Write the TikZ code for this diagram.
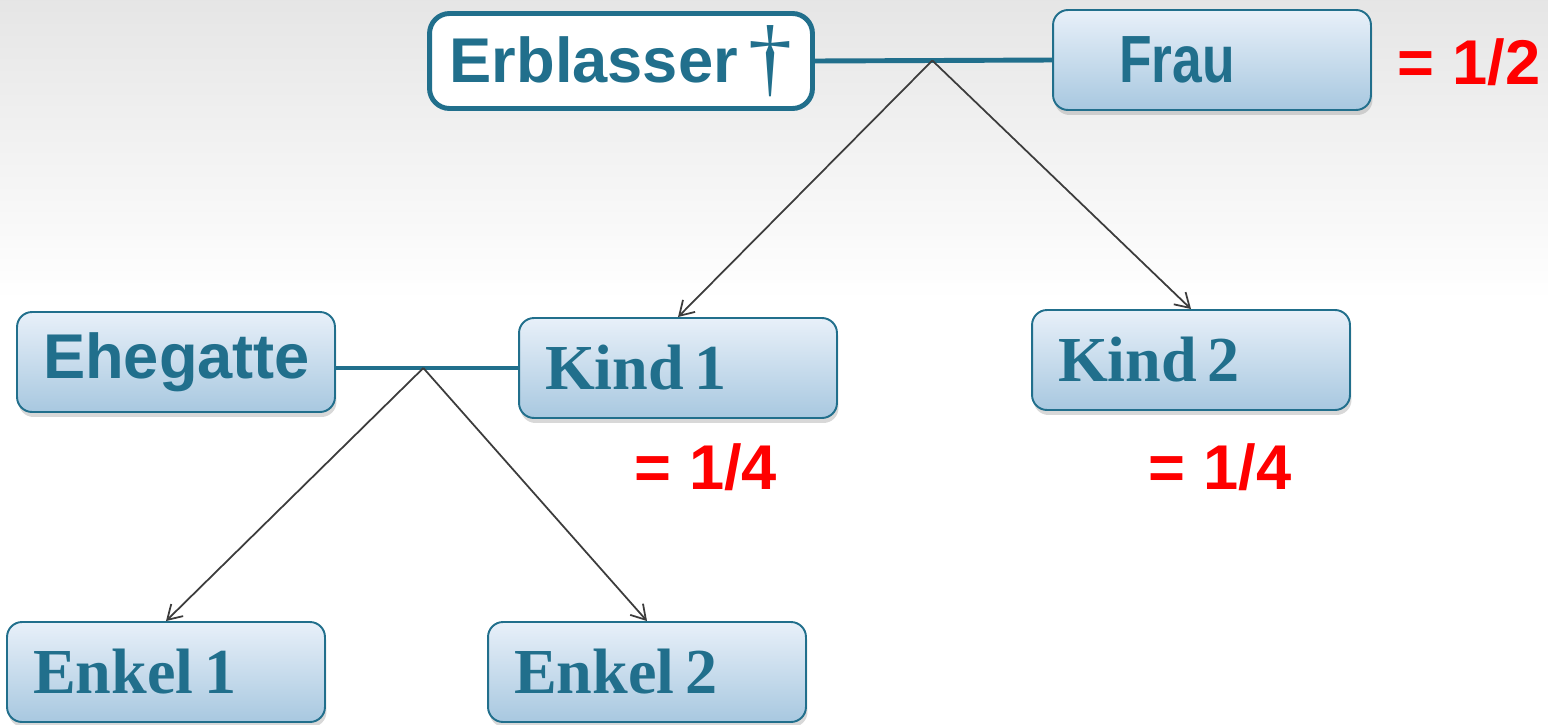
\documentclass[tikz,border=0pt]{standalone}
\usepackage{fontspec}
\setmainfont{Liberation Serif}
\setsansfont{Liberation Sans}
\usetikzlibrary{positioning,arrows.meta,shadows}
\definecolor{erbteal}{RGB}{33,111,140}
\definecolor{boxtop}{RGB}{232,240,249}
\definecolor{boxbot}{RGB}{168,200,224}
\definecolor{arrgray}{RGB}{60,60,60}

\begin{document}
\begin{tikzpicture}[x=0.02cm,y=-0.02cm,
    box/.style={draw=erbteal,line width=1.1pt,rounded corners=0.3cm,
      top color=boxtop,bottom color=boxbot,text=erbteal,
      text width=5.32cm,inner xsep=0.52cm,minimum height=2cm,align=left,
      drop shadow={opacity=.3,shadow xshift=.3mm,shadow yshift=-1mm}},
    sfbox/.style={box,font=\sffamily\bfseries\fontsize{36}{40}\selectfont},
    rmbox/.style={box,font=\rmfamily\bfseries\fontsize{36.5}{40}\selectfont},
    share/.style={text=red,font=\sffamily\bfseries\fontsize{36}{40}\selectfont},
    famline/.style={draw=erbteal,line width=2.8pt},
    childarr/.style={draw=arrgray,line width=1pt,-{Straight Barb[length=2.8mm,width=3.4mm]}}]
      \useasboundingbox (0,0) rectangle (1548,724);
      \shade[top color=gray!20,bottom color=white] (0,0) rectangle (1548,300);
      \fill[white] (0,300) rectangle (1548,724);

      \node[draw=erbteal,line width=2.8pt,fill=white,rounded corners=0.4cm,
        minimum width=7.66cm,minimum height=1.9cm,text=erbteal,
        font=\sffamily\bfseries\fontsize{36}{40}\selectfont] (erbl) at (621,61)
        {Erblasser\,{\rmfamily\mdseries\fontsize{50}{50}\selectfont\raisebox{-2pt}{†}}};
      \node[sfbox] (frau) at (1212,60) {\hspace*{0.8cm}\fontsize{38}{40}\selectfont\scalebox{0.8}[1]{Frau}};
      \node[share] (r1) at (1469,62) {= 1/2};

      \node[sfbox] (eheg) at (176,362) {Ehegatte};
      \node[rmbox] (kind1) at (678,368) {Kind\hspace{.17em}1};
      \node[rmbox] (kind2) at (1191,360) {Kind\hspace{.17em}2};
      \node[share] (r2) at (706,467) {= 1/4};
      \node[share] (r3) at (1220,467) {= 1/4};

      \node[rmbox] (enk1) at (166,672) {Enkel\hspace{.17em}1};
      \node[rmbox] (enk2) at (647,672) {Enkel\hspace{.17em}2};

      % Ehe Erblasser / Frau
      \draw[famline] (erbl.east) -- (frau.west) coordinate[pos=.495] (j1);
      \draw[childarr] (j1) -- (kind1.north);
      \draw[childarr] (j1) -- (kind2.north);

      % Ehe Kind 1 / Ehegatte
      \draw[famline] (eheg.east |- kind1.west) -- (kind1.west) coordinate[pos=.48] (j2);
      \draw[childarr] (j2) -- (enk1.north);
      \draw[childarr] (j2) -- (enk2.north);
    \end{tikzpicture}
\end{document}
